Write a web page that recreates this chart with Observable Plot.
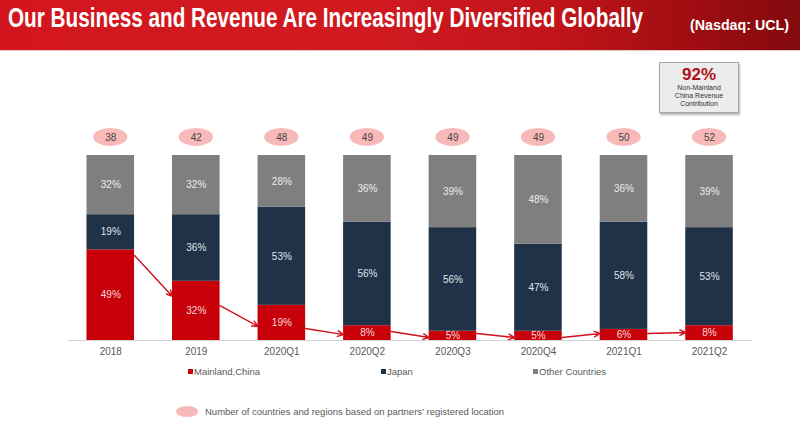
<!DOCTYPE html>
<html>
<head>
<meta charset="utf-8">
<script src="https://cdn.jsdelivr.net/npm/d3@7"></script>
<script src="https://cdn.jsdelivr.net/npm/@observablehq/plot@0.6"></script>
<style>
  html, body { margin: 0; padding: 0; background: #fff; }
  body { width: 800px; height: 427px; position: relative; overflow: hidden; font-family: "Liberation Sans", Arial, sans-serif; }
  #header { position: absolute; left: 0; top: 0; width: 800px; height: 50px;
    background: linear-gradient(90deg, #d3161d 0%, #d11a20 45%, #c0141a 70%, #9c0c11 88%, #820a0d 100%);
    border-bottom: 1px solid #e6c9c9; }
  #title { position: absolute; left: 8px; top: 3px; color: #fff; font-family: "Liberation Sans Narrow", "Liberation Sans", Arial, sans-serif;
    font-weight: bold; font-size: 27px; white-space: nowrap; transform-origin: 0 0; }
  #ticker { position: absolute; left: 690px; top: 17px; color: #fff; font-family: "Liberation Sans Narrow", "Liberation Sans", Arial, sans-serif;
    font-weight: bold; font-size: 14px; white-space: nowrap; transform-origin: 0 0; }
  #chart { position: absolute; left: 0; top: 52px; }
  #box { position: absolute; left: 659px; top: 62px; width: 78px; height: 49px; background: #ececec;
    border: 1px solid #a8a8a8; box-shadow: 1px 2px 2px rgba(0,0,0,0.3); text-align: center; }
  #box .big { color: #b0101c; font-weight: bold; font-size: 17px; line-height: 18px; margin-top: 3px; }
  #box .small { color: #333; font-size: 7px; line-height: 8px; }
  .leg { position: absolute; top: 366px; font-size: 9.5px; color: #595959; white-space: nowrap; }
  .leg i { display: inline-block; width: 5px; height: 5px; margin-right: 1px; vertical-align: 1px; }
  #note { position: absolute; left: 176px; top: 406px; font-size: 9.5px; color: #595959; white-space: nowrap; }
  #note i { display: inline-block; width: 22px; height: 11px; border-radius: 50%; background: #f8b9b9; vertical-align: -2px; margin-right: 7px; }
</style>
</head>
<body>
<div id="header">
  <div id="title">Our Business and Revenue Are Increasingly Diversified Globally</div>
  <div id="ticker">(Nasdaq: UCL)</div>
</div>
<div id="chart"></div>
<div id="box">
  <div class="big">92%</div>
  <div class="small">Non-Mainland<br>China Revenue<br>Contribution</div>
</div>
<div class="leg" style="left:188px"><i style="background:#c8000a"></i>Mainland,China</div>
<div class="leg" style="left:381px"><i style="background:#1f3247"></i>Japan</div>
<div class="leg" style="left:533px"><i style="background:#7f7f7f"></i>Other Countries</div>
<div id="note"><i></i>Number of countries and regions based on partners' registered location</div>
<script>
// ---- data ----
const categories = ["2018", "2019", "2020Q1", "2020Q2", "2020Q3", "2020Q4", "2021Q1", "2021Q2"];
const seriesNames = ["Mainland,China", "Japan", "Other Countries"];
const mainland = [49, 32, 19, 8, 5, 5, 6, 8];
const japan = [19, 36, 53, 56, 56, 47, 58, 53];
const other = [32, 32, 28, 36, 39, 48, 36, 39];
const counts = [38, 42, 48, 49, 49, 49, 50, 52];
// trend arrows (percent units): start on bar i, end on bar i+1
const arrowFrom = [45.9, 18.9, 6.5, 4.9, 3.8, 1.6, 3.8];
const arrowTo = [23.8, 7.6, 3.2, 1.6, 1.6, 3.8, 4.3];

// ---- build tables ----
const seriesValues = [mainland, japan, other];
const rows = [];
categories.forEach((c, i) => {
  seriesNames.forEach((s, k) => rows.push({i, category: c, series: s, value: seriesValues[k][i]}));
});
const countRows = counts.map((n, i) => ({i, n}));
const arrows = arrowFrom.map((v, i) => ({i, from: v, to: arrowTo[i]}));

const HALF = 0.278;             // half bar width in index units
const colors = ["#c8000a", "#1f3247", "#7f7f7f"];
const labelColors = {"Mainland,China": "#f6dada", "Japan": "#dfe5ec", "Other Countries": "#ececec"};

const chart = Plot.plot({
  width: 800,
  height: 310,
  marginLeft: 67.5,
  marginRight: 48.2,
  marginTop: 103,
  marginBottom: 22,
  style: {fontFamily: "'Liberation Sans', Arial, sans-serif", background: "transparent"},
  x: {domain: [-0.5, 7.5], axis: null},
  y: {domain: [0, 100], axis: null},
  color: {domain: seriesNames, range: colors},
  marks: [
    Plot.rectY(rows, Plot.stackY({
      x: "i", x1: d => d.i - HALF, x2: d => d.i + HALF,
      y: "value", fill: "series", z: "series", order: seriesNames
    })),
    Plot.text(rows, Plot.stackY({
      x: "i", y: "value", z: "series", order: seriesNames,
      text: d => d.value + "%", fill: d => labelColors[d.series], fontSize: 10
    })),
    Plot.ruleY([0], {stroke: "#d3d3d3", strokeWidth: 1.2}),
    Plot.arrow(arrows, {
      x1: d => d.i + HALF, y1: "from", x2: d => d.i + 1 - HALF, y2: "to",
      stroke: "#d0101c", strokeWidth: 1.4, headLength: 7, headAngle: 50, bend: false
    }),
    Plot.rect(countRows, {
      x1: d => d.i - 0.2, x2: d => d.i + 0.2, y1: 104.9, y2: 114.6,
      rx: 17, ry: 9, fill: "#f8b9b9"
    }),
    Plot.text(countRows, {x: "i", y: 109.75, text: d => String(d.n), fill: "#444", fontSize: 10}),
    Plot.axisX(d3.range(categories.length), {
      tickSize: 0, tickPadding: 7, tickFormat: i => categories[i], label: null,
      fontSize: 10, color: "#595959"
    })
  ]
});
document.getElementById("chart").appendChild(chart);

// fit header texts to their widths in the reference
function fit(id, w) {
  const el = document.getElementById(id);
  const r = el.getBoundingClientRect();
  el.style.transform = `scaleX(${w / r.width})`;
}
fit("title", 635);
fit("ticker", 99);
</script>
</body>
</html>
